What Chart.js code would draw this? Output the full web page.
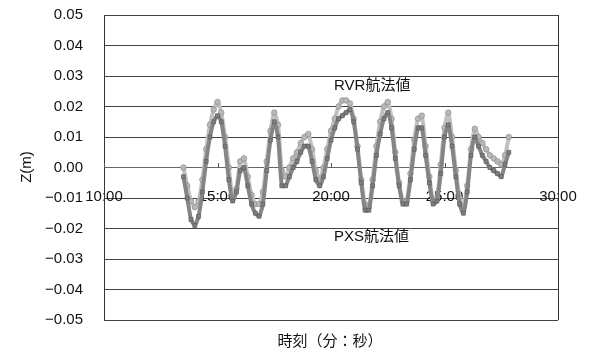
<!DOCTYPE html>
<html>
<head>
<meta charset="utf-8">
<script src="https://cdn.jsdelivr.net/npm/chart.js@4"></script>
<style>
  html, body { margin: 0; padding: 0; background: #fff; }
  #wrap { width: 589px; height: 356px; }
</style>
</head>
<body>
<div id="wrap"><canvas id="grafico"></canvas></div>
<script>
// tiempos en segundos (10:00 = 600)
const tiempos = [
  810, 820, 830, 840, 850, 860, 870, 880, 890, 900,
  910, 920, 930, 940, 950, 960, 970, 980, 990, 1000,
  1010, 1020, 1030, 1040, 1050, 1060, 1070, 1080, 1090, 1100,
  1110, 1120, 1130, 1140, 1150, 1160, 1170, 1180, 1190, 1200,
  1210, 1220, 1230, 1240, 1250, 1260, 1270, 1280, 1290, 1300,
  1310, 1320, 1330, 1340, 1350, 1360, 1370, 1380, 1390, 1400,
  1410, 1420, 1430, 1440, 1450, 1460, 1470, 1480, 1490, 1500,
  1510, 1520, 1530, 1540, 1550, 1560, 1570, 1580, 1590, 1600,
  1610, 1620, 1630, 1640, 1650, 1660, 1670
];

const valoresRVR = [
  0.000, -0.006, -0.011, -0.013, -0.011, -0.004, 0.006, 0.014, 0.019, 0.0215,
  0.018, 0.010, 0.000, -0.010, -0.007, 0.002, 0.003, -0.003, -0.009, -0.012,
  -0.012, -0.008, 0.002, 0.012, 0.018, 0.014, -0.001, -0.003, 0.000, 0.003,
  0.005, 0.008, 0.010, 0.011, 0.006, -0.001, -0.004, 0.000, 0.006, 0.012,
  0.016, 0.020, 0.022, 0.022, 0.021, 0.016, 0.007, -0.004, -0.012, -0.013,
  -0.004, 0.007, 0.015, 0.020, 0.0215, 0.016, 0.005, -0.005, -0.011, -0.011,
  -0.002, 0.009, 0.016, 0.017, 0.007, -0.003, -0.011, -0.010, 0.001, 0.013,
  0.018, 0.010, -0.001, -0.010, -0.013, -0.006, 0.006, 0.0127, 0.010, 0.008,
  0.006, 0.004, 0.003, 0.002, 0.001, 0.004, 0.010
];

const valoresPXS = [
  -0.003, -0.010, -0.017, -0.019, -0.016, -0.008, 0.002, 0.010, 0.015, 0.017,
  0.015, 0.007, -0.004, -0.011, -0.008, -0.001, 0.000, -0.006, -0.012, -0.015,
  -0.016, -0.012, -0.001, 0.009, 0.015, 0.010, -0.006, -0.006, -0.003, 0.000,
  0.002, 0.005, 0.007, 0.007, 0.002, -0.004, -0.006, -0.003, 0.003, 0.009,
  0.013, 0.016, 0.017, 0.018, 0.019, 0.015, 0.006, -0.005, -0.014, -0.014,
  -0.006, 0.004, 0.011, 0.016, 0.018, 0.013, 0.003, -0.006, -0.012, -0.012,
  -0.004, 0.006, 0.013, 0.013, 0.004, -0.005, -0.012, -0.011, -0.002, 0.010,
  0.014, 0.007, -0.003, -0.012, -0.015, -0.008, 0.004, 0.010, 0.007, 0.004,
  0.002, 0.000, -0.001, -0.002, -0.003, 0.001, 0.005
];

const ticksX = [600, 900, 1200, 1500, 1800];
const nombreRVR = "RVR航法値";
const nombrePXS = "PXS航法値";

const fuente = "'Liberation Sans', 'Noto Sans CJK JP', sans-serif";

function formatoTiempo(s) {
  const m = Math.floor(s / 60);
  const seg = s % 60;
  return m + ":" + String(seg).padStart(2, "0");
}

// textos, borde derecho y marcas del eje X
const extras = {
  id: "extras",
  afterDraw(chart) {
    const ctx = chart.ctx;
    const area = chart.chartArea;
    const x = chart.scales.x;
    const y = chart.scales.y;
    ctx.save();
    ctx.strokeStyle = "#333";
    ctx.lineWidth = 1;
    ctx.beginPath();
    ctx.moveTo(area.right + 0.5, area.top);
    ctx.lineTo(area.right + 0.5, area.bottom);
    ctx.stroke();

    const y0 = Math.round(y.getPixelForValue(0));
    ctx.strokeStyle = "#555";
    ticksX.forEach(t => {
      const px = Math.round(x.getPixelForValue(t)) + 0.5;
      ctx.beginPath();
      ctx.moveTo(px, y0);
      ctx.lineTo(px, y0 - 5);
      ctx.stroke();
    });

    ctx.fillStyle = "#111";
    ctx.font = "15px " + fuente;
    ctx.textAlign = "left";
    ctx.textBaseline = "middle";
    ctx.fillText(nombreRVR, 334, 86);
    ctx.fillText(nombrePXS, 334, 237);

    ctx.textAlign = "center";
    ctx.fillText("時刻（分：秒）", 330, 342);

    ctx.translate(27, 167);
    ctx.rotate(-Math.PI / 2);
    ctx.fillText("Z(m)", 0, 0);
    ctx.restore();
  }
};

const ctx = document.getElementById("grafico").getContext("2d");
new Chart(ctx, {
  type: "line",
  data: {
    datasets: [
      {
        label: nombrePXS,
        data: tiempos.map((t, i) => ({ x: t, y: valoresPXS[i] })),
        borderColor: "#858585",
        borderWidth: 4,
        pointStyle: "rect",
        pointRadius: 2.8,
        pointBorderWidth: 0.6,
        pointBorderColor: "#555",
        pointBackgroundColor: "#7e7e7e",
        tension: 0.2,
        order: 1
      },
      {
        label: nombreRVR,
        data: tiempos.map((t, i) => ({ x: t, y: valoresRVR[i] })),
        borderColor: "#c0c0c0",
        borderWidth: 4,
        pointStyle: "circle",
        pointRadius: 2.8,
        pointBorderWidth: 0.6,
        pointBorderColor: "#888",
        pointBackgroundColor: "#b8b8b8",
        tension: 0.2,
        order: 2
      }
    ]
  },
  options: {
    responsive: true,
    maintainAspectRatio: false,
    animation: false,
    layout: { padding: { left: 0, right: 31, top: 15, bottom: 36 } },
    plugins: {
      legend: { display: false },
      tooltip: { enabled: false }
    },
    scales: {
      x: {
        type: "linear",
        position: { y: 0 },
        min: 600,
        max: 1800,
        z: 1,
        afterBuildTicks(scale) {
          scale.ticks = ticksX.map(v => ({ value: v }));
        },
        afterFit(scale) {
          scale.paddingTop = 0;
          scale.paddingBottom = 0;
          scale.paddingLeft = 0;
          scale.paddingRight = 0;
        },
        grid: { display: false, drawTicks: false },
        border: { display: true, color: "#666", width: 1 },
        ticks: {
          padding: 20,
          color: "#111",
          font: { size: 15, family: fuente },
          maxRotation: 0,
          callback: v => formatoTiempo(v)
        }
      },
      y: {
        min: -0.05,
        max: 0.05,
        afterFit(scale) {
          scale.width = 104;
          scale.paddingTop = 0;
          scale.paddingBottom = 0;
        },
        grid: { color: "#444", lineWidth: 1, drawTicks: false },
        border: { display: true, color: "#333", width: 1 },
        ticks: {
          stepSize: 0.01,
          padding: 21,
          color: "#111",
          font: { size: 15, family: fuente },
          callback: v => {
            const r = Math.round(v * 100) / 100;
            return (r < 0 ? "−" : "") + Math.abs(r).toFixed(2);
          }
        }
      }
    }
  },
  plugins: [extras]
});
</script>
</body>
</html>
